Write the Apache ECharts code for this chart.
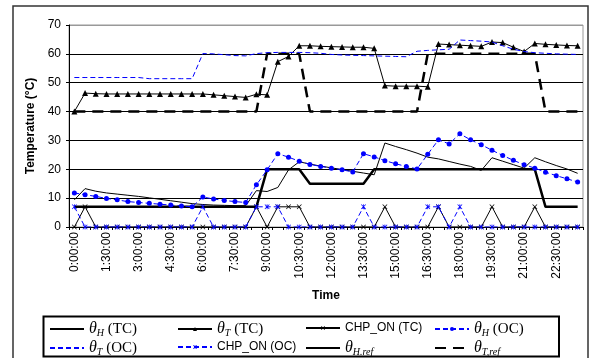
<!DOCTYPE html>
<html>
<head>
<meta charset="utf-8">
<script src="https://cdn.jsdelivr.net/npm/echarts@6/dist/echarts.min.js"></script>
<style>
  html, body { margin: 0; padding: 0; background: #fff; }
  #chart { width: 592px; height: 358px; }
</style>
</head>
<body>
<div id="chart"></div>
<script>
// Half-hourly time steps over one day
const times = [
  '0:00:00','0:30:00','1:00:00','1:30:00','2:00:00','2:30:00','3:00:00','3:30:00',
  '4:00:00','4:30:00','5:00:00','5:30:00','6:00:00','6:30:00','7:00:00','7:30:00',
  '8:00:00','8:30:00','9:00:00','9:30:00','10:00:00','10:30:00','11:00:00','11:30:00',
  '12:00:00','12:30:00','13:00:00','13:30:00','14:00:00','14:30:00','15:00:00','15:30:00',
  '16:00:00','16:30:00','17:00:00','17:30:00','18:00:00','18:30:00','19:00:00','19:30:00',
  '20:00:00','20:30:00','21:00:00','21:30:00','22:00:00','22:30:00','23:00:00','23:30:00'
];

// Temperature axis ticks
const yTicks = { min: 0, max: 70, step: 10 };

// Thermostatic control (TC)
const thetaH_TC = [
  9.4, 13.3, 12.4, 11.8, 11.4, 11.0, 10.6, 10.1, 9.6, 9.1, 8.6, 8.1,
  7.8, 7.6, 7.5, 7.4, 7.4, 12.6, 12.3, 13.7, 19.8, 22.6, 21.8, 21.1,
  20.5, 19.9, 19.3, 18.7, 18.1, 29.1, 27.9, 26.8, 25.6, 24.2, 23.6, 22.7,
  21.8, 21.0, 19.6, 24.0, 22.8, 21.6, 20.4, 24.0, 22.6, 21.3, 20.1, 18.6
];
const thetaT_TC = [
  40.0, 46.4, 46.2, 46.1, 46.1, 46.1, 46.1, 46.1, 46.1, 46.1, 46.1, 46.1,
  46.1, 45.8, 45.5, 45.2, 44.9, 46.0, 45.8, 57.3, 59.1, 62.8, 62.8, 62.6,
  62.5, 62.4, 62.3, 62.3, 61.9, 49.0, 48.8, 48.8, 48.8, 48.6, 63.4, 63.2,
  63.0, 62.8, 62.6, 64.1, 63.9, 62.3, 60.8, 63.6, 63.3, 63.1, 62.9, 62.8
];
const chpOn_TC = [
  0, 7, 0, 0, 0, 0, 0, 0, 0, 0, 0, 0,
  0, 0, 0, 0, 0, 7, 0, 7, 7, 7, 0, 0,
  0, 0, 0, 0, 0, 7, 0, 0, 0, 0, 7, 0,
  0, 0, 0, 7, 0, 0, 0, 7, 0, 0, 0, 0
];

// Optimal control (OC)
const thetaH_OC = [
  11.8, 11.2, 10.6, 9.9, 9.4, 8.8, 8.5, 8.2, 7.9, 7.6, 7.3, 7.0,
  10.4, 9.7, 9.2, 8.8, 8.5, 14.6, 19.8, 25.4, 24.2, 22.8, 21.7, 21.0,
  20.4, 19.8, 19.1, 25.4, 24.3, 23.0, 21.9, 21.0, 20.1, 25.2, 30.2, 28.8,
  32.3, 30.2, 28.5, 26.6, 24.8, 23.1, 21.6, 20.4, 19.0, 17.8, 16.7, 15.6
];
const thetaT_OC = [
  51.8, 51.8, 51.8, 51.8, 51.8, 51.8, 51.8, 51.4, 51.4, 51.4, 51.4, 51.4,
  60.1, 60.0, 59.7, 59.4, 59.3, 60.1, 60.4, 60.5, 60.5, 60.5, 60.4, 60.2,
  59.8, 59.6, 59.5, 59.4, 59.3, 59.2, 59.1, 59.0, 60.9, 61.2, 61.4, 61.6,
  64.8, 64.6, 64.4, 64.1, 62.8, 61.6, 60.8, 60.4, 60.2, 60.0, 59.9, 59.8
];
const chpOn_OC = [
  7, 0, 0, 0, 0, 0, 0, 0, 0, 0, 0, 0,
  7, 0, 0, 0, 0, 7, 7, 7, 0, 0, 0, 0,
  0, 0, 0, 7, 0, 0, 0, 0, 0, 7, 7, 0,
  7, 0, 0, 0, 0, 0, 0, 0, 0, 0, 0, 0
];

// Reference temperatures
const thetaH_ref = [
  7, 7, 7, 7, 7, 7, 7, 7, 7, 7, 7, 7,
  7, 7, 7, 7, 7, 7, 20, 20, 20, 20, 15, 15,
  15, 15, 15, 15, 20, 20, 20, 20, 20, 20, 20, 20,
  20, 20, 20, 20, 20, 20, 20, 20, 7, 7, 7, 7
];
const thetaT_ref = [
  40, 40, 40, 40, 40, 40, 40, 40, 40, 40, 40, 40,
  40, 40, 40, 40, 40, 40, 60, 60, 60, 60, 40, 40,
  40, 40, 40, 40, 40, 40, 40, 40, 40, 60, 60, 60,
  60, 60, 60, 60, 60, 60, 60, 60, 40, 40, 40, 40
];

// Series names and their rich-text legend labels
const names = {
  hTC: 'θH (TC)', tTC: 'θT (TC)', cTC: 'CHP_ON (TC)', hOC: 'θH (OC)',
  tOC: 'θT (OC)', cOC: 'CHP_ON (OC)', hRef: 'θH.ref', tRef: 'θT,ref'
};
const legendLabels = {
  [names.hTC]: '{g|θ}{s|H}{p| (TC)}',
  [names.tTC]: '{g|θ}{s|T}{p| (TC)}',
  [names.cTC]: '{a|CHP_ON (TC)}',
  [names.hOC]: '{g|θ}{s|H}{p| (OC)}',
  [names.tOC]: '{g|θ}{s|T}{p| (OC)}',
  [names.cOC]: '{a|CHP_ON (OC)}',
  [names.hRef]: '{g|θ}{s|H.ref}',
  [names.tRef]: '{g|θ}{s|T,ref}'
};

const SERIF = '"Liberation Serif", "Times New Roman", serif';
const SANS = '"Liberation Sans", Arial, sans-serif';
const BLUE = '#0000ff';

const xMark = 'path://M0,1L1,0L5,4L9,0L10,1L6,5L10,9L9,10L5,6L1,10L0,9L4,5Z';
const starMark = 'path://M0,1L1,0L5,4L9,0L10,1L6,5L10,9L9,10L5,6L1,10L0,9L4,5Z M4.3,0H5.7V10H4.3Z';

// One legend entry per slot; lines without markers hide the legend symbol
function legendAt(name, left, top, lineOnly) {
  const lg = {
    data: [name], left: left, top: top, padding: 0,
    itemWidth: 34, itemHeight: 5, selectedMode: false,
    formatter: n => legendLabels[n],
    textStyle: {
      color: '#000',
      rich: {
        g: { fontFamily: SERIF, fontStyle: 'italic', fontSize: 16, color: '#000' },
        s: { fontFamily: SERIF, fontStyle: 'italic', fontSize: 10, color: '#000', padding: [9, 0, 0, 0] },
        p: { fontFamily: SERIF, fontSize: 15, color: '#000' },
        a: { fontFamily: SANS, fontSize: 12, color: '#000' }
      }
    }
  };
  if (lineOnly) lg.itemStyle = { opacity: 0 };
  return lg;
}

const chart = echarts.init(document.getElementById('chart'), null, { renderer: 'canvas' });

chart.setOption({
  animation: false,
  backgroundColor: '#fff',
  grid: { left: 69, right: 9, top: 25, bottom: 131, show: true, borderColor: '#999', borderWidth: 1 },
  graphic: [
    { type: 'rect', shape: { x: 13, y: 6, width: 575, height: 400 },
      style: { fill: 'none', stroke: '#333', lineWidth: 1.5 }, silent: true, z: -1 },
    { type: 'rect', shape: { x: 43.5, y: 316.5, width: 515.5, height: 40 },
      style: { fill: 'none', stroke: '#000', lineWidth: 2 }, silent: true }
  ],
  legend: [
    legendAt(names.hTC, 49, 321, true),
    legendAt(names.tTC, 177, 321, false),
    legendAt(names.cTC, 305, 322, false),
    legendAt(names.hOC, 434, 321, false),
    legendAt(names.tOC, 49, 340, true),
    legendAt(names.cOC, 177, 341, false),
    legendAt(names.hRef, 305, 340, true),
    legendAt(names.tRef, 434, 340, true)
  ],
  xAxis: {
    type: 'category',
    data: times,
    boundaryGap: true,
    name: 'Time',
    nameLocation: 'middle',
    nameGap: 63,
    nameTextStyle: { fontFamily: SANS, fontSize: 12, fontWeight: 'bold', color: '#000' },
    axisLine: { lineStyle: { color: '#000', width: 1 } },
    axisTick: { show: true, interval: 0, length: 3, lineStyle: { color: '#000' } },
    axisLabel: { interval: 2, rotate: 90, fontFamily: SANS, fontSize: 12, color: '#000', margin: 5 },
    splitLine: { show: false }
  },
  yAxis: {
    type: 'value',
    min: yTicks.min, max: yTicks.max, interval: yTicks.step,
    name: 'Temperature (°C)',
    nameLocation: 'middle',
    nameGap: 30,
    nameTextStyle: { fontFamily: SANS, fontSize: 12, fontWeight: 'bold', color: '#000' },
    axisLine: { show: true, lineStyle: { color: '#000', width: 1 } },
    axisTick: { show: true, length: 3, lineStyle: { color: '#000' } },
    axisLabel: { fontFamily: SANS, fontSize: 12, color: '#000', margin: 8 },
    splitLine: { show: true, lineStyle: { color: ['#000', '#000', '#000', '#000', '#000', '#000', '#000', '#999'], width: 1 } }
  },
  series: [
    { name: names.hRef, type: 'line', data: thetaH_ref, symbol: 'none',
      lineStyle: { color: '#000', width: 2.5 }, itemStyle: { color: '#000' }, z: 2 },
    { name: names.tRef, type: 'line', data: thetaT_ref, symbol: 'none',
      lineStyle: { color: '#000', width: 2.5, type: [11, 7] }, itemStyle: { color: '#000' }, z: 2 },
    { name: names.hTC, type: 'line', data: thetaH_TC, symbol: 'none',
      lineStyle: { color: '#000', width: 1 }, itemStyle: { color: '#000' }, z: 3 },
    { name: names.tTC, type: 'line', data: thetaT_TC, symbol: 'triangle', symbolSize: 6, showAllSymbol: true,
      lineStyle: { color: '#000', width: 1 }, itemStyle: { color: '#000' }, z: 3 },
    { name: names.cTC, type: 'line', data: chpOn_TC, symbol: xMark, symbolSize: 5, showAllSymbol: true,
      lineStyle: { color: '#000', width: 1 }, itemStyle: { color: '#000' }, z: 3 },
    { name: names.hOC, type: 'line', data: thetaH_OC, symbol: 'circle', symbolSize: 5, showAllSymbol: true,
      lineStyle: { color: BLUE, width: 1, type: [5, 3] }, itemStyle: { color: BLUE }, z: 4 },
    { name: names.tOC, type: 'line', data: thetaT_OC, symbol: 'none',
      lineStyle: { color: BLUE, width: 1, type: [5, 3] }, itemStyle: { color: BLUE }, z: 4 },
    { name: names.cOC, type: 'line', data: chpOn_OC, symbol: starMark, symbolSize: 5, showAllSymbol: true,
      lineStyle: { color: BLUE, width: 1, type: [5, 3] }, itemStyle: { color: BLUE }, z: 4 }
  ]
});
</script>
</body>
</html>
